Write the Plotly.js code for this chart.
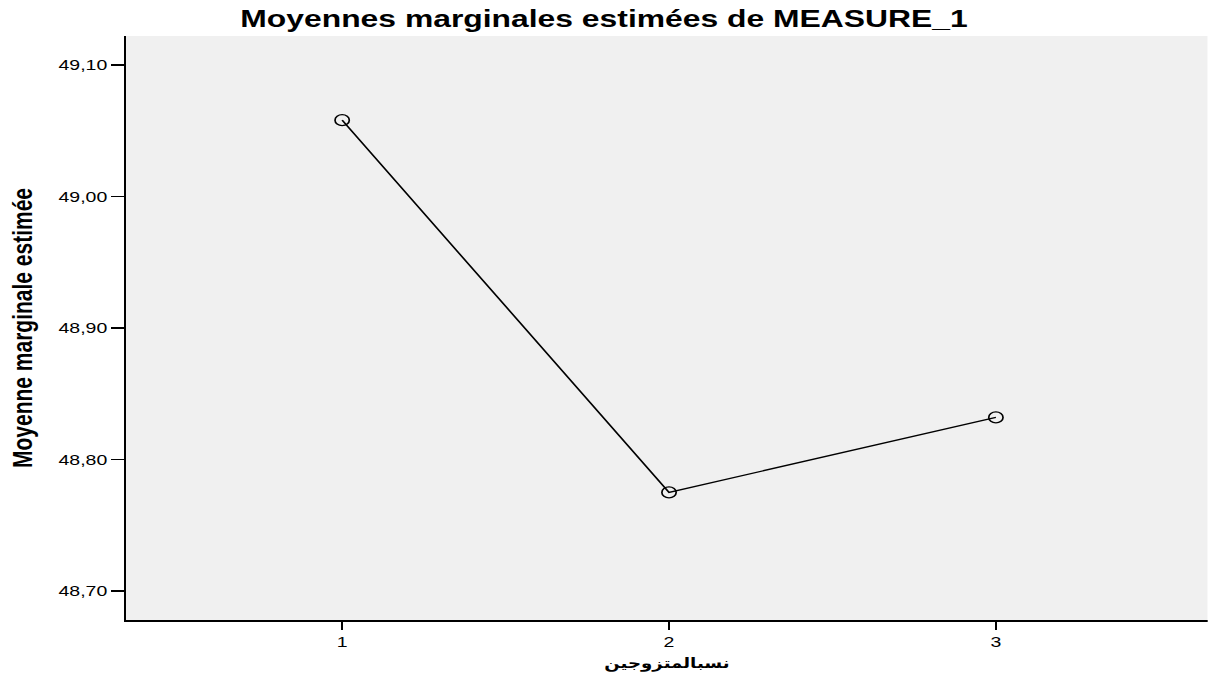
<!DOCTYPE html>
<html>
<head>
<meta charset="utf-8">
<script src="https://cdn.plot.ly/plotly-3.0.1.min.js"></script>
<style>
html,body{margin:0;padding:0;background:#fff;overflow:hidden;width:1208px;height:686px;}
#chart{width:929px;height:686px;transform:scaleX(1.3);transform-origin:0 0;}
</style>
</head>
<body>
<div id="chart"></div>
<script>
const categories = [1, 2, 3];
const means = [49.058, 48.775, 48.832];
const yTicks = [48.70, 48.80, 48.90, 49.00, 49.10];
const chartTitle = 'Moyennes marginales estimées de MEASURE_1';
const xTitle = 'نسبالمتزوجين';
const yTitle = 'Moyenne marginale estimée';

// The reference is horizontally stretched (~1.3x); the chart is drawn at
// 1208/1.3 px wide and stretched back with a CSS transform.
const W = 1208 / 1.3;

const trace = {
  x: categories,
  y: means,
  type: 'scatter',
  mode: 'lines+markers',
  line: {color: '#000', width: 1.4},
  marker: {symbol: 'circle-open', size: 11, color: '#000', line: {width: 1.3, color: '#000'}},
  hoverinfo: 'skip'
};

const font = 'Liberation Sans, Arial, sans-serif';

const layout = {
  width: W, height: 686,
  margin: {l: 97, r: 0, t: 36, b: 66},
  paper_bgcolor: '#fff',
  plot_bgcolor: '#f0f0f0',
  separators: ', ',
  showlegend: false,
  title: {text: chartTitle, x: 0.5, xanchor: 'center', y: 0.973, yanchor: 'middle',
          font: {family: font, size: 24.5, color: '#000', weight: 'bold'}},
  xaxis: {
    range: [0.339, 3.648],
    tickvals: categories,
    ticktext: categories.map(String),
    showgrid: false, zeroline: false,
    showline: true, linecolor: '#000', linewidth: 1.5,
    ticks: 'outside', ticklen: 8, tickwidth: 1.5, tickcolor: '#000',
    tickfont: {family: font, size: 15, color: '#000'},
    automargin: true,
    title: {text: xTitle, standoff: 8,
            font: {family: 'DejaVu Sans, Noto Sans, sans-serif', size: 14, color: '#000', weight: 'bold'}}
  },
  yaxis: {
    range: [48.678, 49.122],
    tickvals: yTicks,
    tickformat: '.2f',
    showgrid: false, zeroline: false,
    showline: true, linecolor: '#000', linewidth: 1.5,
    ticks: 'outside', ticklen: 10, tickwidth: 1.5, tickcolor: '#000',
    tickfont: {family: font, size: 15, color: '#000'},
    automargin: true,
    title: {text: yTitle, standoff: 14,
            font: {family: font, size: 21, color: '#000', weight: 'bold'}}
  }
};

Plotly.newPlot('chart', [trace], layout, {displayModeBar: false, staticPlot: true});
</script>
</body>
</html>
